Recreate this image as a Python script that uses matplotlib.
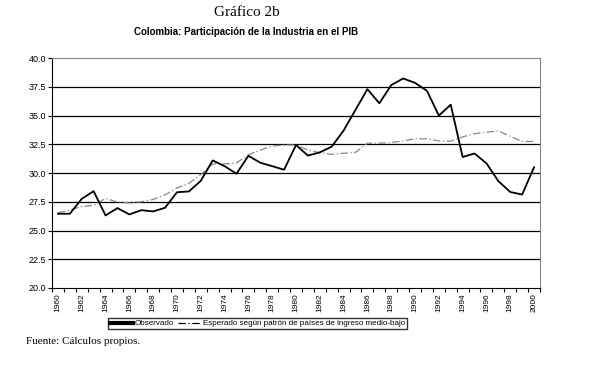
import numpy as np
import matplotlib
matplotlib.use("Agg")
import matplotlib.pyplot as plt

# Datos
years = list(range(1960, 2001))
observado = [26.46, 26.46, 27.76, 28.42, 26.31, 26.95, 26.40, 26.77, 26.66, 26.98,
             28.33, 28.40, 29.32, 31.10, 30.60, 29.94, 31.50, 30.90, 30.60, 30.29,
             32.44, 31.52, 31.80, 32.30, 33.70, 35.50, 37.30, 36.07, 37.65, 38.23,
             37.85, 37.16, 35.00, 35.95, 31.40, 31.70, 30.85, 29.30, 28.35, 28.13,
             30.50]
esperado = [26.54, 26.77, 27.10, 27.18, 27.80, 27.47, 27.40, 27.50, 27.70, 28.10,
            28.70, 29.10, 29.87, 30.80, 30.80, 30.87, 31.60, 32.00, 32.35, 32.44,
            32.44, 32.00, 31.77, 31.63, 31.72, 31.80, 32.60, 32.60, 32.65, 32.80,
            32.98, 32.98, 32.80, 32.77, 33.15, 33.43, 33.55, 33.67, 33.20, 32.75,
            32.75]
yticks = [20.0, 22.5, 25.0, 27.5, 30.0, 32.5, 35.0, 37.5, 40.0]

plt.rcParams["font.family"] = "Liberation Sans"

fig = plt.figure(figsize=(6.01, 3.85), dpi=100)
ax = fig.add_axes([0.0865, 0.252, 0.812, 0.597])

x = np.arange(len(years))
for v in yticks[1:-1]:
    ax.axhline(v, color="black", lw=0.9, zorder=1)

ax.plot(x, observado, color="black", lw=1.3, zorder=3, label="Observado")
ax.plot(x, esperado, color="#888888", lw=0.9, ls=(0, (6, 2, 1, 2)), zorder=2,
        label="Esperado según patrón de países de ingreso medio-bajo")

ax.set_xlim(-0.5, len(years) - 0.5)
ax.set_ylim(20, 40)
ax.set_yticks(yticks)
ax.set_yticklabels([f"{v:.1f}" for v in yticks], fontsize=6.5)
ax.tick_params(axis="y", length=3, width=0.8, pad=1)

ax.set_xticks(x[::2])
ax.set_xticklabels([str(y) for y in years[::2]], rotation=90, fontsize=6)
ax.set_xticks(np.arange(-0.5, len(years)), minor=True)
ax.tick_params(axis="x", which="major", length=0, pad=4)
ax.tick_params(axis="x", which="minor", length=3, width=0.8)

for s in ["top", "right"]:
    ax.spines[s].set_color("#888888")
for s in ["left", "bottom"]:
    ax.spines[s].set_color("black")

fig.text(0.41, 0.968, "Gráfico 2b", ha="center", va="center",
         family="Liberation Serif", fontsize=11)
fig.text(0.41, 0.917, "Colombia: Participación de la Industria en el PIB",
         ha="center", va="center", fontsize=7, fontweight="bold")

leg = fig.legend(loc="center", bbox_to_anchor=(257.5 / 601, 1 - 323.5 / 385),
                 ncol=2, fontsize=5.8, frameon=True, fancybox=False,
                 handlelength=2.8, handletextpad=0.2, columnspacing=0.6,
                 borderpad=0.25, borderaxespad=0)
leg.get_frame().set_edgecolor("black")
leg.get_frame().set_linewidth(1.0)
leg.legend_handles[0].set_linewidth(3)
leg.legend_handles[1].set_color("black")

fig.text(26 / 601, 1 - 342 / 385, "Fuente: Cálculos propios.", ha="left",
         va="center", family="Liberation Serif", fontsize=8)

fig.savefig("out.png", dpi=100)
